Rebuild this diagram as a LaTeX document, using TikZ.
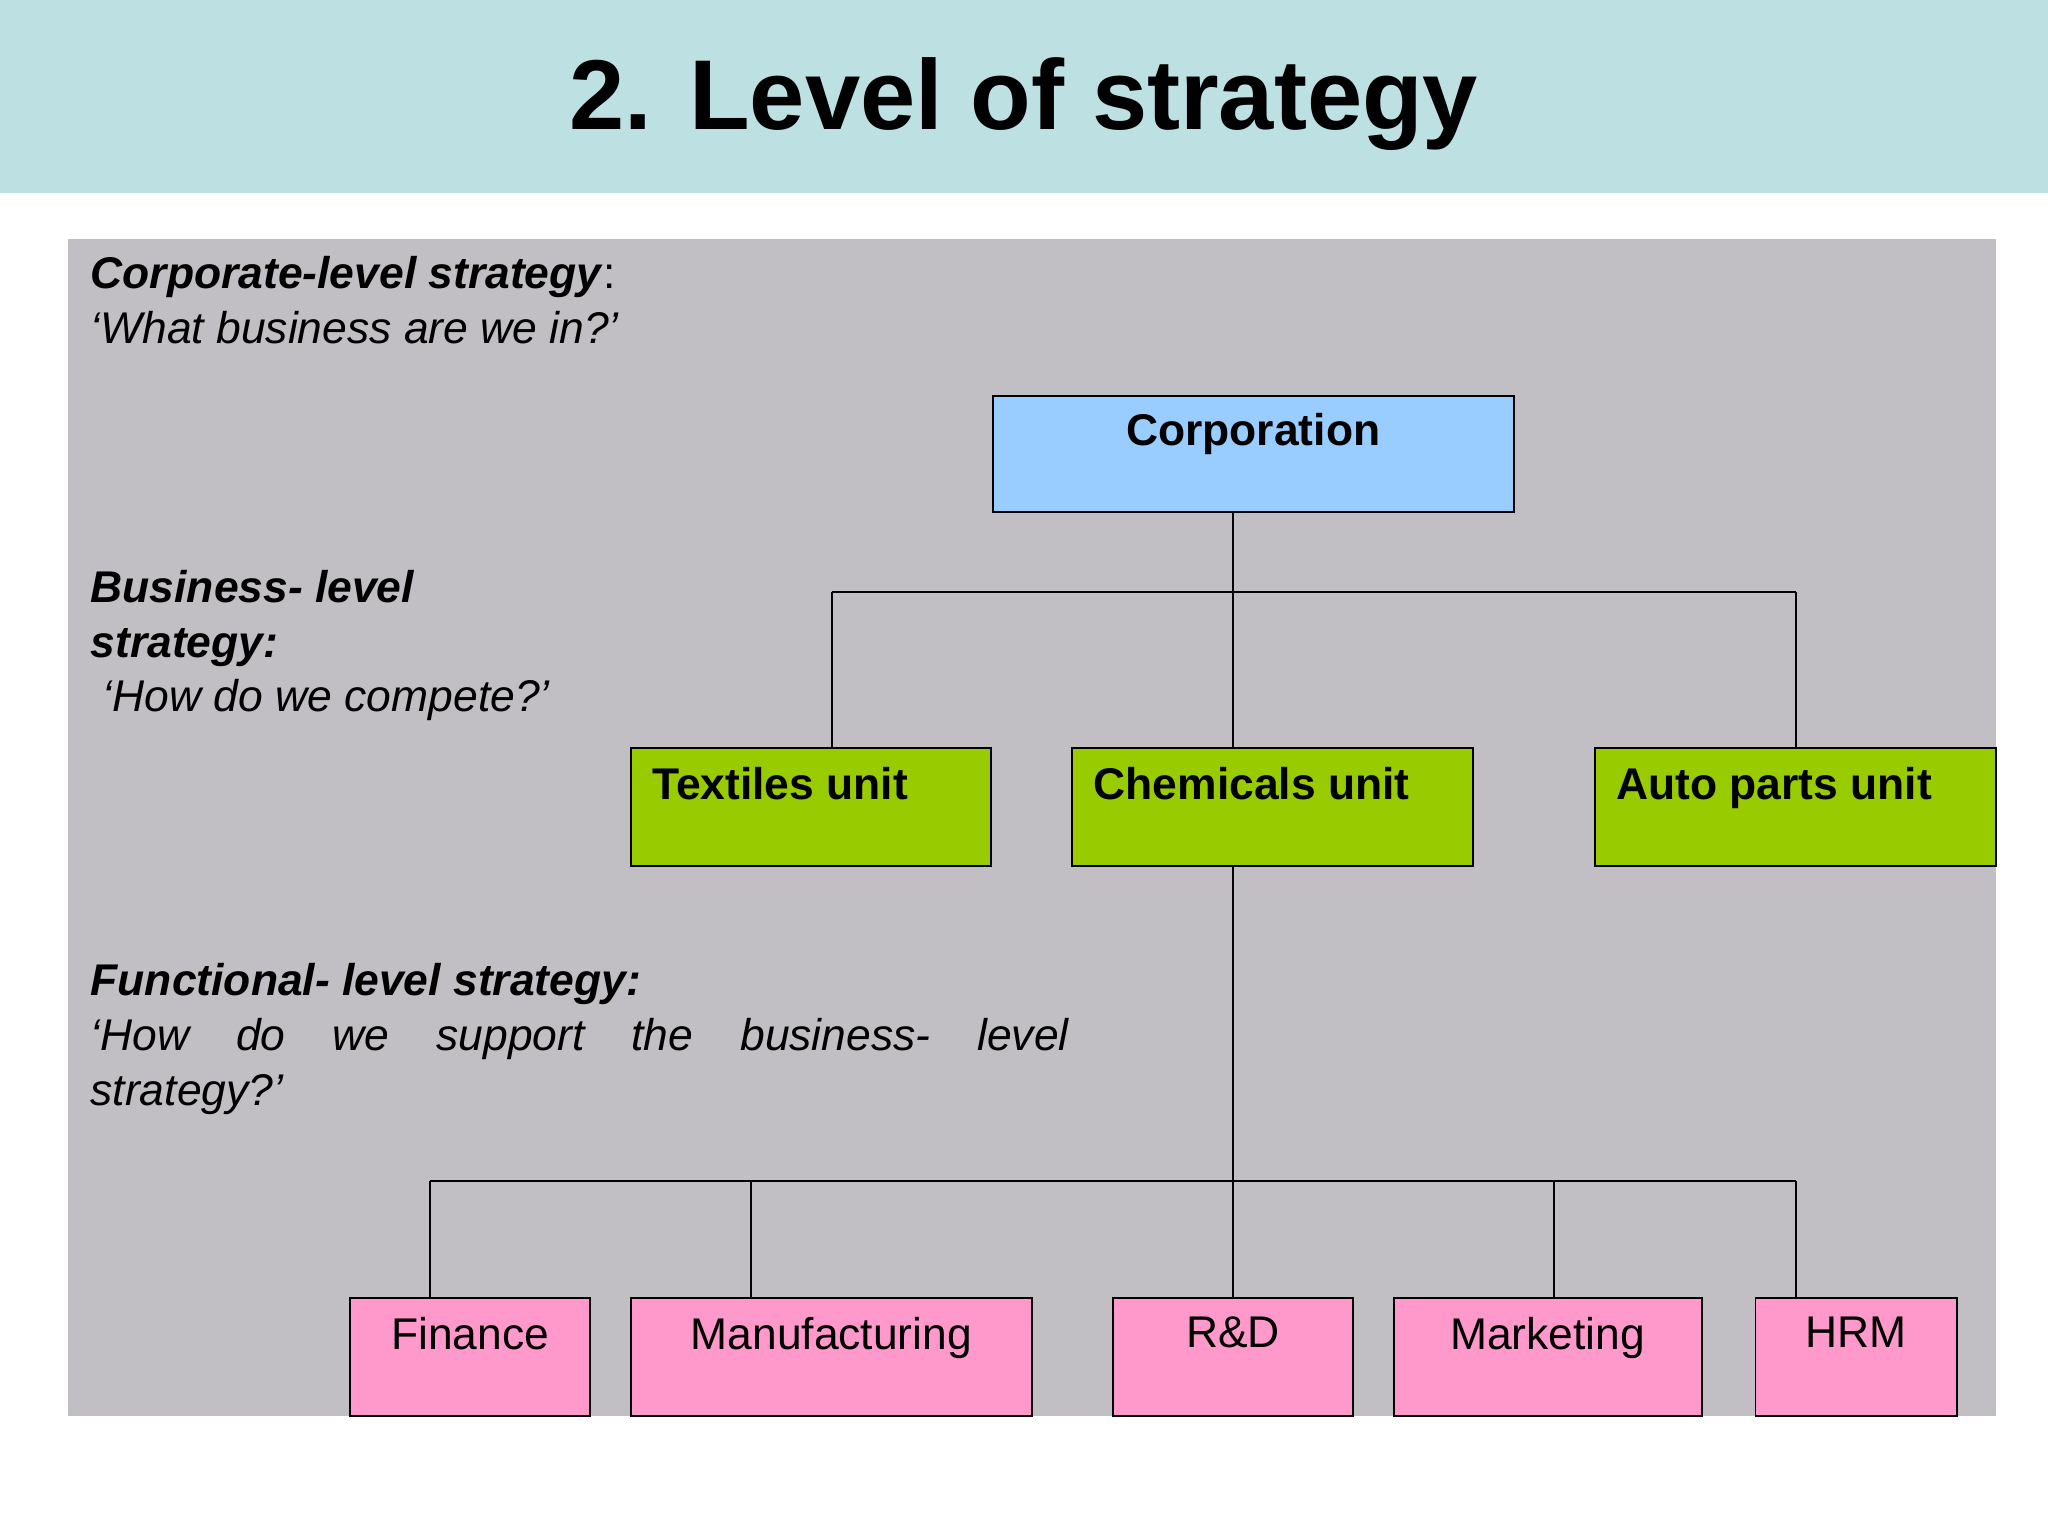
\documentclass[tikz,border=0pt]{standalone}
\usepackage{fontspec}
\setmainfont{Liberation Sans}
\definecolor{hdr}{HTML}{BDE0E3}
\definecolor{panel}{HTML}{C1BFC3}
\definecolor{corpc}{HTML}{99CCFF}
\definecolor{unitc}{HTML}{99CC00}
\definecolor{func}{HTML}{FF99CC}
\begin{document}
\begin{tikzpicture}[x=0.5pt,y=-0.5pt,
  box/.style={draw,line width=0.7pt,anchor=north west,inner sep=0pt},
  lbl/.style={anchor=north west,inner sep=0pt,font=\fontsize{17}{21}\selectfont\bfseries},
  flbl/.style={anchor=north,inner sep=0pt,font=\fontsize{17}{21}\selectfont},
  ln/.style={line width=0.7pt}]
\useasboundingbox (0,0) rectangle (1568,1176);
\fill[white] (0,0) rectangle (1568,1176);
\fill[hdr] (0,0) rectangle (1568,148);
\node[font=\fontsize{38}{44}\selectfont\bfseries] (title) at (784,80) {2. Level of strategy};
\fill[panel] (52,183) rectangle (1528,1084);
\node[anchor=north west,inner sep=0pt,align=left,font=\fontsize{17}{21}\selectfont] (t1) at (69,196)
  {\textbf{\itshape Corporate-level strategy}:\\ \itshape `What business are we in?'};
\node[anchor=north west,inner sep=0pt,align=left,font=\fontsize{17}{21}\selectfont\itshape] (t2) at (69,436)
  {\textbf{Business- level}\\ \textbf{strategy:}\\ \ `How do we compete?'};
\node[anchor=north west,inner sep=0pt,align=left,font=\fontsize{17}{21}\selectfont\itshape] (t3) at (69,737)
  {\textbf{Functional- level strategy:}\\ `How\hspace{18pt}do\hspace{18pt}we\hspace{18pt}support\hspace{18pt}the\hspace{18pt}business-\hspace{18pt}level\\ strategy?'};
% boxes
\draw[box,fill=corpc] (760,303) rectangle (1159,392);
\node[lbl,anchor=north] (corp) at (959.5,316) {Corporation};
\coordinate (corpS) at (944,392);
\draw[box,fill=unitc] (483,573) rectangle (759,663);
\node[lbl] (tex) at (499,587) {Textiles unit};
\draw[box,fill=unitc] (821,573) rectangle (1128,663);
\node[lbl] (chem) at (837,587) {Chemicals unit};
\draw[box,fill=unitc] (1221,573) rectangle (1528,663);
\node[lbl] (auto) at (1237,587) {Auto parts unit};
\foreach \a/\b/\t/\n in {268/452/Finance/fin,483/790/Manufacturing/man,852/1036/R\&D/rd,1067/1303/Marketing/mkt,1344/1498/HRM/hrm}{
  \draw[box,fill=func] (\a,994) rectangle (\b,1084);
  \node[flbl] (\n) at ({(\a+\b)/2},1008) {\t};
}
% connectors
\coordinate (j1) at (944,453);
\coordinate (jl) at (637,453);
\coordinate (jr) at (1375,453);
\draw[ln] (corpS) -- (j1);
\draw[ln] (jl) -- (jr);
\draw[ln] (jl) -- (637,573);
\draw[ln] (j1) -- (944,573);
\draw[ln] (jr) -- (1375,573);
\coordinate (chemS) at (944,663);
\coordinate (k1) at (944,904);
\draw[ln] (chemS) -- (k1);
\draw[ln] (329,904) -- (1375,904);
\foreach \x in {329,575,944,1190,1375} \draw[ln] (\x,904) -- (\x,994);
\end{tikzpicture}
\end{document}
